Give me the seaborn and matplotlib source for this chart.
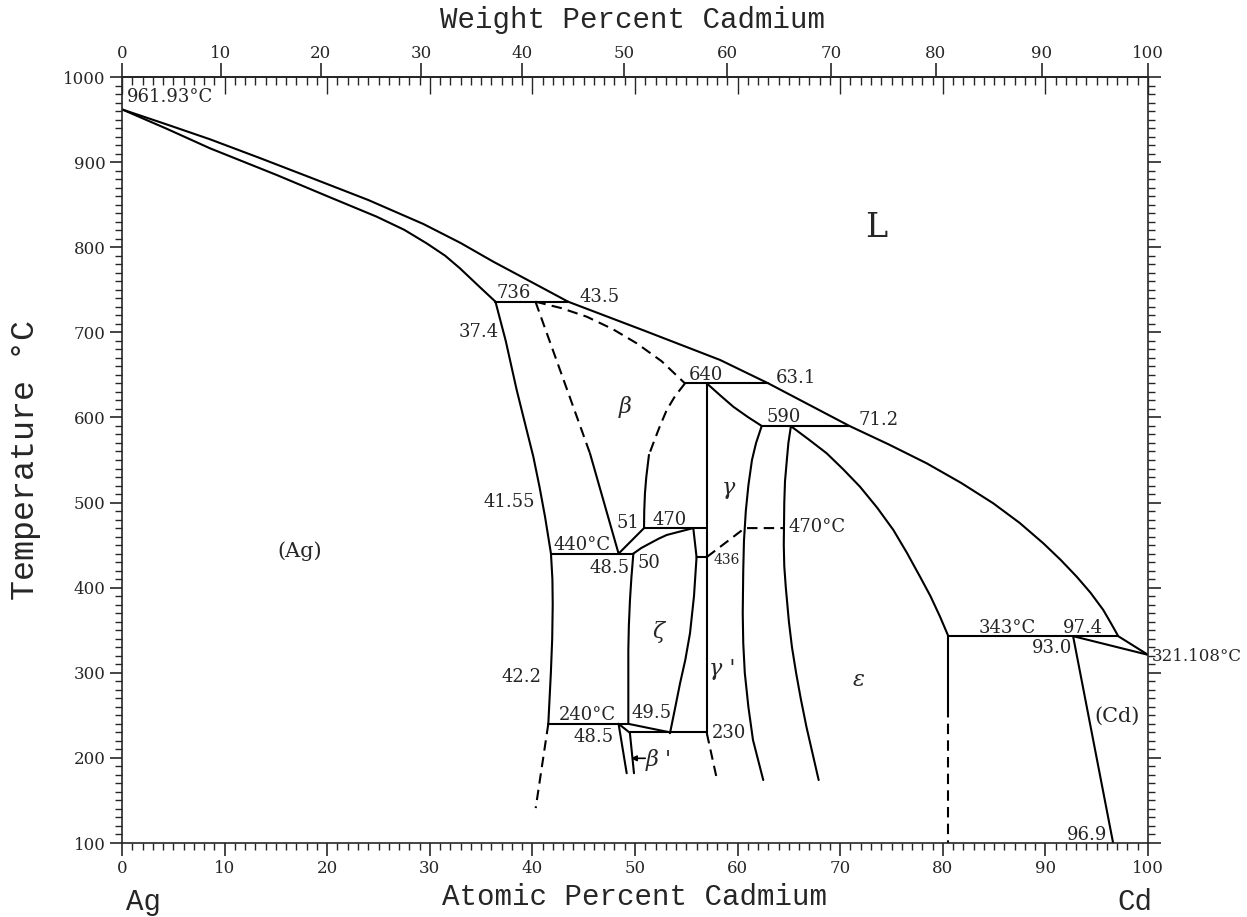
# Ag-Cd phase diagram (atomic % Cd vs temperature)

import matplotlib
matplotlib.use("Agg")
import matplotlib.pyplot as plt
from matplotlib.ticker import MultipleLocator
import numpy as np
import seaborn as sns

M_AG, M_CD = 107.8682, 112.411

# ---- phase boundaries (at.% Cd, deg C) ----
liq_left_x = [0, 4.3, 8.58, 13.5, 18.32, 24, 29.37, 33, 36.19, 40, 43.48]
liq_left_t = [961.93, 944.5, 926.8, 904.5, 882.1, 855.5, 827.3, 805, 783.0, 758.5, 736]
sol_left_x = [0, 4.3, 8.58, 15.07, 20, 24.82, 27.5, 29.69, 31.5, 32.94, 34.8, 36.4]
sol_left_t = [961.93, 939.5, 916.2, 884.9, 860, 835.9, 820.5, 804.6, 790, 775.2, 754, 736]
liq_mid_x = [43.48, 50.9, 58.3, 63.0, 70.9]
liq_mid_t = [736, 702, 667.5, 640, 590]
liq_right_x = [70.9, 74.7, 78.43, 81.8, 84.92, 87.5, 89.8, 91.5, 93.05, 94.4,
               95.64, 96.4, 97.1, 100]
liq_right_t = [590, 568.5, 546.1, 523, 499.1, 476, 452.1, 432.5, 412.9, 394,
               373.8, 358, 343, 321.108]

ag_solvus_x = [36.4, 37.4, 38.47, 39.3, 40.09, 40.7, 41.23, 41.81, 41.95,
               41.98, 41.93, 41.8, 41.55]
ag_solvus_t = [736, 690, 632.2, 592, 553.9, 518, 483.4, 440, 410,
               380, 340, 300, 240]
ag_solvus_dash_x = [41.55, 40.32]
ag_solvus_dash_t = [240, 141]

beta_left_dash_x = [40.3, 45.61]
beta_left_dash_t = [736, 557.9]
beta_left_x = [45.61, 48.4]
beta_left_t = [557.9, 440]
beta_top_dash_x = [40.3, 42.8, 45.29, 47.8, 50.17, 52.6, 54.87]
beta_top_dash_t = [736, 728.5, 718.4, 704, 687.1, 666, 640]
beta_right_dash_x = [54.87, 53.9, 53.09, 52.4, 51.78, 51.36]
beta_right_dash_t = [640, 625, 608.7, 589, 569.6, 556]
beta_right_x = [51.36, 51.1, 50.97, 50.9, 50.88]
beta_right_t = [556, 530, 510.9, 490, 470]

gamma_top_x = [57.0, 58.3, 59.58, 61.0, 62.35]
gamma_top_t = [640, 626, 612.6, 600.5, 590]
gamma_eps_left_x = [62.35, 61.8, 61.4, 61.05, 60.8, 60.62, 60.55, 60.5, 60.55, 60.7, 61.05, 61.5, 62.5]
gamma_eps_left_t = [590, 570, 550, 520, 490, 455, 420, 370, 335, 300, 260, 221, 174]
gamma_eps_right_x = [65.2, 64.95, 64.8, 64.62, 64.55, 64.5, 64.55, 64.7, 65.0, 65.3, 65.7, 66.15, 66.7, 67.9]
gamma_eps_right_t = [590, 570, 550, 525, 500, 450, 425, 400, 360, 330, 300, 270, 237, 174]
eps_liq_x = [65.17, 67.0, 68.68, 70.3, 71.93, 73.6, 75.18, 76.5, 77.78, 78.8, 79.73, 80.54]
eps_liq_t = [590, 573.5, 557.9, 539, 518.6, 494, 467.8, 441, 412.9, 390, 365.9, 343]

zeta_top_x = [49.84, 50.6, 51.46, 52.3, 53.09, 54.4, 55.68, 56.0]
zeta_top_t = [440, 446.5, 452.1, 457.5, 461.9, 466, 470, 436]
zeta_right_x = [56.0, 55.75, 55.36, 54.9, 54.39, 53.9, 53.41]
zeta_right_t = [436, 390, 346.4, 315, 287.6, 258, 229]
zeta_left_x = [49.84, 49.65, 49.51, 49.4, 49.35, 49.35]
zeta_left_t = [440, 412, 385.5, 355, 326.7, 240]

gamma_vert_x = [57.0, 57.0]
gamma_vert_t = [640, 229]
gamma_vert_dash_x = [57.0, 58.0]
gamma_vert_dash_t = [229, 174]
gamma_order_dash_x = [57.0, 60.7, 64.5]
gamma_order_dash_t = [436, 470, 470]

bprime_a_x = [48.4, 49.19]
bprime_a_t = [240, 182]
bprime_b_x = [48.4, 49.5, 49.9]
bprime_b_t = [240, 229.5, 182]
slant_x = [49.35, 53.41]
slant_t = [240, 230]
link_x = [48.4, 50.88]
link_t = [440, 470]

cd_solidus_x = [92.7, 100]
cd_solidus_t = [343, 321.108]
cd_solvus_x = [92.7, 96.6]
cd_solvus_t = [343, 100]
eps_vert_x = [80.54, 80.54]
eps_vert_t = [343, 260]
eps_vert_dash_x = [80.54, 80.54]
eps_vert_dash_t = [260, 100]

# invariant lines: (x_start, x_end, temperature)
invariants = [(36.4, 43.48, 736), (54.87, 63.0, 640), (62.35, 70.9, 590),
              (50.88, 57.0, 470), (41.81, 49.84, 440), (56.0, 57.0, 436),
              (41.55, 49.35, 240), (49.5, 57.0, 230), (80.54, 97.1, 343)]

# text labels: (text, x, T, size, style, ha)
labels = [
    ("961.93°C", 0.45, 977, 13, "normal", "left"),
    ("736", 38.17, 745.8, 13, "normal", "center"),
    ("43.5", 46.5, 741.9, 13, "normal", "center"),
    ("37.4", 34.73, 700.7, 13, "normal", "center"),
    ("640", 56.9, 649.9, 13, "normal", "center"),
    ("63.1", 65.67, 646, 13, "normal", "center"),
    ("590", 64.45, 600.9, 13, "normal", "center"),
    ("71.2", 73.72, 597, 13, "normal", "center"),
    ("51", 49.27, 475.6, 13, "normal", "center"),
    ("470", 53.41, 479.5, 13, "normal", "center"),
    ("440°C", 44.8, 450.1, 13, "normal", "center"),
    ("48.5", 47.48, 422.7, 13, "normal", "center"),
    ("50", 51.38, 428.6, 13, "normal", "center"),
    ("436", 58.93, 432.5, 10, "normal", "center"),
    ("470°C", 65.0, 471.6, 13, "normal", "left"),
    ("41.55", 37.74, 501, 13, "normal", "center"),
    ("42.2", 38.96, 295.4, 13, "normal", "center"),
    ("240°C", 45.37, 250.4, 13, "normal", "center"),
    ("48.5", 45.94, 225, 13, "normal", "center"),
    ("49.5", 51.62, 252.4, 13, "normal", "center"),
    ("230", 59.18, 229, 13, "normal", "center"),
    ("343°C", 86.31, 352.3, 13, "normal", "center"),
    ("97.4", 93.7, 352.3, 13, "normal", "center"),
    ("93.0", 90.69, 328.8, 13, "normal", "center"),
    ("321.108°C", 100.4, 319.7, 12, "normal", "left"),
    ("96.9", 94.03, 109.4, 13, "normal", "center"),
    ("β", 49.0, 612.7, 16, "italic", "center"),
    ("γ", 59.1, 516.7, 16, "italic", "center"),
    ("ζ", 52.27, 348.3, 16, "italic", "center"),
    ("γ '", 58.5, 304, 16, "italic", "center"),
    ("β '", 52.3, 197.5, 16, "italic", "center"),
    ("ε", 71.77, 291.5, 16, "italic", "center"),
    ("L", 73.5, 822.6, 24, "normal", "center"),
    ("(Ag)", 17.35, 443, 15, "normal", "center"),
    ("(Cd)", 97.03, 248.4, 15, "normal", "center"),
]


def at2wt(a):
    a = np.asarray(a, dtype=float)
    return 100 * a * M_CD / (a * M_CD + (100 - a) * M_AG)


def wt2at(w):
    w = np.asarray(w, dtype=float)
    return 100 * (w / M_CD) / (w / M_CD + (100 - w) / M_AG)


sns.set_style("ticks")
plt.rcParams["font.family"] = ["DejaVu Serif"]
plt.rcParams["axes.linewidth"] = 1.2

fig = plt.figure(figsize=(12.47, 9.17), dpi=100)
ax = fig.add_axes([122 / 1247, 1 - 843 / 917, 1026 / 1247, 766 / 917])

DASH = (0, (5, 3))


def draw(xs, ts, dashed=False):
    sns.lineplot(x=xs, y=ts, sort=False, estimator=None, color="black",
                 lw=1.5, ax=ax, linestyle=DASH if dashed else "-")


solid = [(liq_left_x, liq_left_t), (sol_left_x, sol_left_t),
         (liq_mid_x, liq_mid_t), (liq_right_x, liq_right_t),
         (ag_solvus_x, ag_solvus_t), (beta_left_x, beta_left_t),
         (beta_right_x, beta_right_t), (gamma_top_x, gamma_top_t),
         (gamma_eps_left_x, gamma_eps_left_t), (gamma_eps_right_x, gamma_eps_right_t),
         (eps_liq_x, eps_liq_t), (zeta_top_x, zeta_top_t),
         (zeta_right_x, zeta_right_t), (zeta_left_x, zeta_left_t),
         (gamma_vert_x, gamma_vert_t), (bprime_a_x, bprime_a_t),
         (bprime_b_x, bprime_b_t), (slant_x, slant_t), (link_x, link_t),
         (cd_solidus_x, cd_solidus_t), (cd_solvus_x, cd_solvus_t),
         (eps_vert_x, eps_vert_t)]
dashed = [(ag_solvus_dash_x, ag_solvus_dash_t), (beta_left_dash_x, beta_left_dash_t),
          (beta_top_dash_x, beta_top_dash_t), (beta_right_dash_x, beta_right_dash_t),
          (gamma_vert_dash_x, gamma_vert_dash_t), (gamma_order_dash_x, gamma_order_dash_t),
          (eps_vert_dash_x, eps_vert_dash_t)]

for xs, ts in solid:
    draw(xs, ts)
for xs, ts in dashed:
    draw(xs, ts, dashed=True)
for x0, x1, t in invariants:
    draw([x0, x1], [t, t])

for txt, x, t, size, style, ha in labels:
    ax.text(x, t, txt, fontsize=size, fontstyle=style, ha=ha, va="center",
            clip_on=False)

ax.annotate("", xy=(49.6, 199.5), xytext=(51.0, 199.5),
            arrowprops=dict(arrowstyle="-|>", color="black", lw=1.2,
                            mutation_scale=8, shrinkA=0, shrinkB=0))

ax.set_xlim(0, 100)
ax.set_ylim(100, 1000)
ax.set_xticks(range(0, 101, 10))
ax.xaxis.set_minor_locator(MultipleLocator(1))
ax.set_yticks(range(100, 1001, 100))
ax.yaxis.set_minor_locator(MultipleLocator(10))
ax.tick_params(axis="x", which="both", direction="out", top=False, bottom=True)
ax.tick_params(axis="y", which="both", direction="out", left=True, right=True)
ax.tick_params(which="major", length=9, width=1.2, labelsize=12, pad=3)
ax.tick_params(which="minor", length=5, width=1.0)
ax.set_xlabel("")
ax.set_ylabel("")
for s in ax.spines.values():
    s.set_visible(True)
    s.set_linewidth(1.2)

# top: atomic % ticks pointing in
top_at = ax.secondary_xaxis("top")
top_at.set_xticks(range(0, 101, 10))
top_at.xaxis.set_minor_locator(MultipleLocator(1))
top_at.tick_params(which="both", direction="in", labeltop=False, width=1.0)
top_at.tick_params(which="major", length=12)
top_at.tick_params(which="minor", length=6)

# top: weight % scale
top_wt = ax.secondary_xaxis("top", functions=(at2wt, wt2at))
top_wt.set_xticks(range(0, 101, 10))
top_wt.xaxis.set_minor_locator(plt.NullLocator())
top_wt.tick_params(which="major", direction="out", length=10, width=1.2,
                   labelsize=12, pad=0.5)

title_font = dict(family="Liberation Mono", fontsize=21)
fig.text(632 / 1247, 1 - 20 / 917, "Weight Percent Cadmium", ha="center", va="center", **title_font)
fig.text(634 / 1247, 1 - 897 / 917, "Atomic Percent Cadmium", ha="center", va="center", **title_font)
fig.text(26 / 1247, 1 - 460 / 917, "Temperature °C", ha="center", va="center",
         rotation=90, family="Liberation Mono", fontsize=24)
fig.text(143 / 1247, 1 - 902 / 917, "Ag", ha="center", va="center", **title_font)
fig.text(1135 / 1247, 1 - 902 / 917, "Cd", ha="center", va="center", **title_font)

plt.savefig("out.png", dpi=100)
